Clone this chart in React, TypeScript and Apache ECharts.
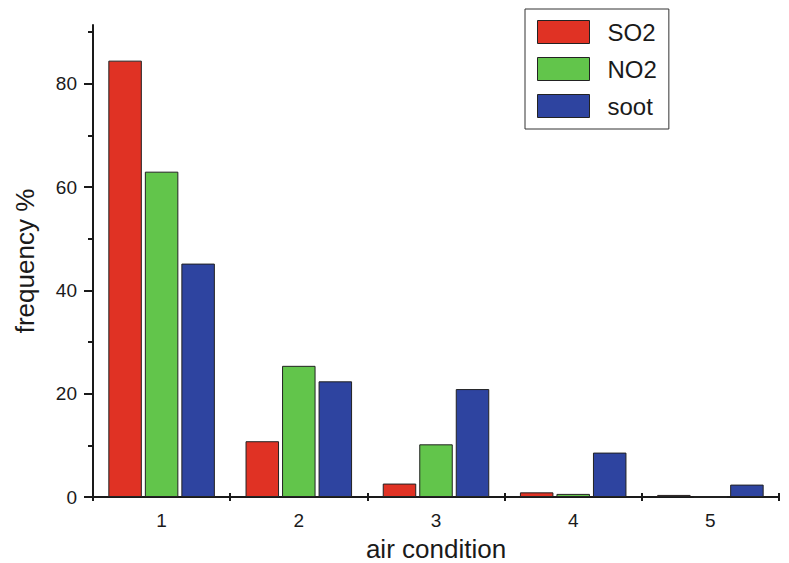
import React, { useEffect, useRef } from "react";
import * as echarts from "echarts";

const categories = ["1", "2", "3", "4", "5"];
const so2 = [84.5, 10.8, 2.6, 0.9, 0.4];
const no2 = [63.0, 25.4, 10.2, 0.6, 0];
const soot = [45.2, 22.4, 20.9, 8.6, 2.4];
const majorTicks = [0, 20, 40, 60, 80];
const minorTicks = [10, 30, 50, 70, 90];
const yMax = 91.4;

const FONT = '"Liberation Sans", Arial, Helvetica, sans-serif';
const INK = "#1a1a1a";
const COLORS = ["#E03224", "#62C54B", "#2E44A0"];

export default function App() {
  const ref = useRef<HTMLDivElement>(null);
  useEffect(() => {
    if (!ref.current) return;
    const chart = echarts.init(ref.current, null, { renderer: "svg" });
    const barStyle = (c: string) => ({ color: c, borderColor: "#222", borderWidth: 1 });
    chart.setOption({
      animation: false,
      textStyle: { fontFamily: FONT },
      grid: { left: 93, right: 10, top: 25, bottom: 66, containLabel: false, outerBoundsMode: "none" },
      legend: {
        orient: "vertical",
        left: 525,
        top: 9,
        padding: [11, 12, 11, 12],
        borderColor: "#333",
        borderWidth: 1,
        backgroundColor: "#fff",
        itemWidth: 52,
        itemHeight: 23,
        itemGap: 13,
        icon: "rect",
        itemStyle: { borderColor: "#222", borderWidth: 1 },
        textStyle: { fontSize: 24, color: INK, fontFamily: FONT, padding: [0, 0, 0, 13] },
        data: ["SO2", "NO2", "soot"],
      },
      xAxis: [
        {
          type: "category",
          data: categories,
          name: "air condition",
          nameLocation: "middle",
          nameGap: 39,
          nameTextStyle: { fontSize: 26, color: INK, fontFamily: FONT },
          axisLine: { lineStyle: { color: INK, width: 2 } },
          axisTick: { show: true, length: 4, lineStyle: { color: INK, width: 2 } },
          axisLabel: { fontSize: 19, color: INK, margin: 14, fontFamily: FONT },
          splitLine: { show: false },
        },
        {
          type: "category",
          data: categories,
          position: "bottom",
          axisLine: { show: false },
          axisTick: { show: true, inside: true, length: 4, lineStyle: { color: INK, width: 2 } },
          axisLabel: { show: false },
          splitLine: { show: false },
        },
      ],
      yAxis: [
        {
          type: "value",
          min: 0,
          max: yMax,
          position: "left",
          name: "frequency %",
          nameLocation: "middle",
          nameGap: 55,
          nameRotate: 90,
          nameTextStyle: { fontSize: 26, color: INK, fontFamily: FONT },
          axisLine: { show: true, lineStyle: { color: INK, width: 2 } },
          axisTick: { show: true, length: 9, customValues: majorTicks, lineStyle: { color: INK, width: 2 } },
          axisLabel: { fontSize: 19, color: INK, margin: 16, customValues: majorTicks, fontFamily: FONT },
          splitLine: { show: false },
        },
        {
          type: "value",
          min: 0,
          max: yMax,
          position: "left",
          axisLine: { show: false },
          axisTick: { show: true, length: 5, customValues: minorTicks, lineStyle: { color: INK, width: 2 } },
          axisLabel: { show: false },
          splitLine: { show: false },
        },
      ],
      series: [
        { name: "SO2", type: "bar", data: so2, barWidth: 33.5, barGap: "9%", itemStyle: barStyle(COLORS[0]) },
        { name: "NO2", type: "bar", data: no2, barWidth: 33.5, barGap: "9%", itemStyle: barStyle(COLORS[1]) },
        { name: "soot", type: "bar", data: soot, barWidth: 33.5, barGap: "9%", itemStyle: barStyle(COLORS[2]) },
      ],
    });
    return () => chart.dispose();
  }, []);
  return <div ref={ref} style={{ position: "absolute", left: 0, top: 0, width: 789, height: 563 }} />;
}
